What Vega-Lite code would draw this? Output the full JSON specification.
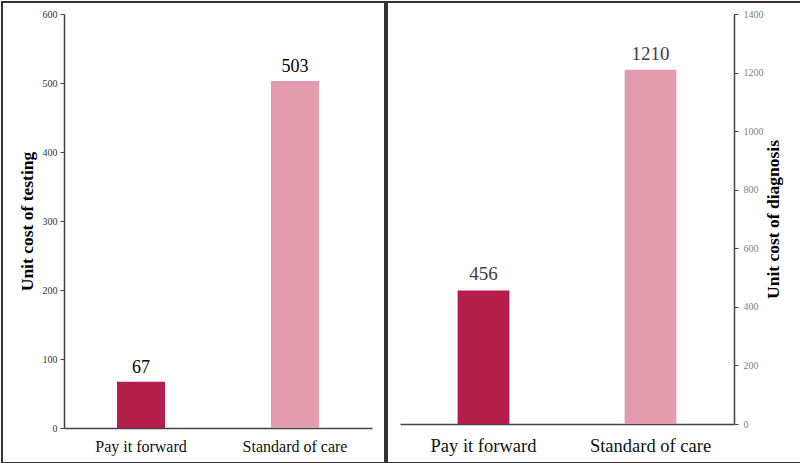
{
  "$schema": "https://vega.github.io/schema/vega-lite/v6.json",
  "padding": {"left": 1, "top": 1, "right": 1, "bottom": 1},
  "spacing": 0,
  "background": "white",
  "config": {
    "view": {"stroke": "#333333", "strokeWidth": 2},
    "font": "Liberation Serif, Times New Roman, serif",
    "axis": {"labelFont": "Liberation Serif, Times New Roman, serif", "titleFont": "Liberation Serif, Times New Roman, serif"},
    "text": {"font": "Liberation Serif, Times New Roman, serif"}
  },
  "datasets": {
    "testing": [
      {"group": "Pay it forward", "cost": 67},
      {"group": "Standard of care", "cost": 503}
    ],
    "diagnosis": [
      {"group": "Pay it forward", "cost": 456},
      {"group": "Standard of care", "cost": 1210}
    ]
  },
  "hconcat": [
    {
      "width": 383,
      "height": 461,
      "data": {"name": "testing"},
      "encoding": {
        "x": {
          "field": "group", "type": "nominal", "sort": null,
          "scale": {"range": [62, 370], "paddingInner": 0.688, "paddingOuter": 0.344},
          "axis": {
            "title": null, "offset": -35, "labelAngle": 0, "ticks": false, "tickSize": 0,
            "labelPadding": 10, "labelFontSize": 16,
            "labelColor": "#111111", "domainColor": "#444444", "domainWidth": 1.5, "grid": false
          }
        },
        "y": {
          "field": "cost", "type": "quantitative",
          "scale": {"domain": [0, 600], "range": [426, 12], "nice": false},
          "axis": {
            "offset": -62, "values": [0, 100, 200, 300, 400, 500, 600], "grid": false, "format": "d",
            "labelFontSize": 10, "labelColor": "#333333",
            "domainColor": "#444444", "domainWidth": 1.5, "tickColor": "#444444", "tickSize": 4,
            "labelPadding": 3,
            "title": "Unit cost of testing", "titleFontSize": 17.5,
            "titleFontWeight": "bold", "titleColor": "#000000", "titlePadding": 6
          }
        }
      },
      "layer": [
        {
          "mark": {"type": "bar"},
          "encoding": {
            "color": {
              "field": "group", "type": "nominal", "legend": null,
              "scale": {"domain": ["Pay it forward", "Standard of care"], "range": ["#B31F4A", "#E39CAE"]}
            }
          }
        },
        {
          "mark": {"type": "text", "dy": -14, "fontSize": 18, "color": "#000000"},
          "encoding": {"text": {"field": "cost", "type": "quantitative"}}
        }
      ]
    },
    {
      "width": 415,
      "height": 461,
      "data": {"name": "diagnosis"},
      "encoding": {
        "x": {
          "field": "group", "type": "nominal", "sort": null,
          "scale": {"range": [13, 347], "paddingInner": 0.69, "paddingOuter": 0.345},
          "axis": {
            "title": null, "offset": -39, "labelAngle": 0, "ticks": false, "tickSize": 0,
            "labelPadding": 12, "labelFontSize": 18.5,
            "labelColor": "#111111", "domainColor": "#444444", "domainWidth": 1.5, "grid": false
          }
        },
        "y": {
          "field": "cost", "type": "quantitative",
          "scale": {"domain": [0, 1400], "range": [422, 12], "nice": false},
          "axis": {
            "orient": "right", "offset": -68, "format": "d",
            "values": [0, 200, 400, 600, 800, 1000, 1200, 1400], "grid": false,
            "labelFontSize": 10, "labelColor": "#808080",
            "domainColor": "#444444", "domainWidth": 1.5, "tickColor": "#444444", "tickSize": 4,
            "labelPadding": 5,
            "title": "Unit cost of diagnosis", "titleFontSize": 17.5, "titleAngle": 270,
            "titleFontWeight": "bold", "titleColor": "#000000", "titlePadding": 19
          }
        }
      },
      "layer": [
        {
          "mark": {"type": "bar"},
          "encoding": {
            "color": {
              "field": "group", "type": "nominal", "legend": null,
              "scale": {"domain": ["Pay it forward", "Standard of care"], "range": ["#B31F4A", "#E39CAE"]}
            }
          }
        },
        {
          "mark": {"type": "text", "dy": -16, "fontSize": 19, "color": "#404040"},
          "encoding": {"text": {"field": "cost", "type": "quantitative"}}
        }
      ]
    }
  ],
  "resolve": {"scale": {"color": "independent"}}
}
